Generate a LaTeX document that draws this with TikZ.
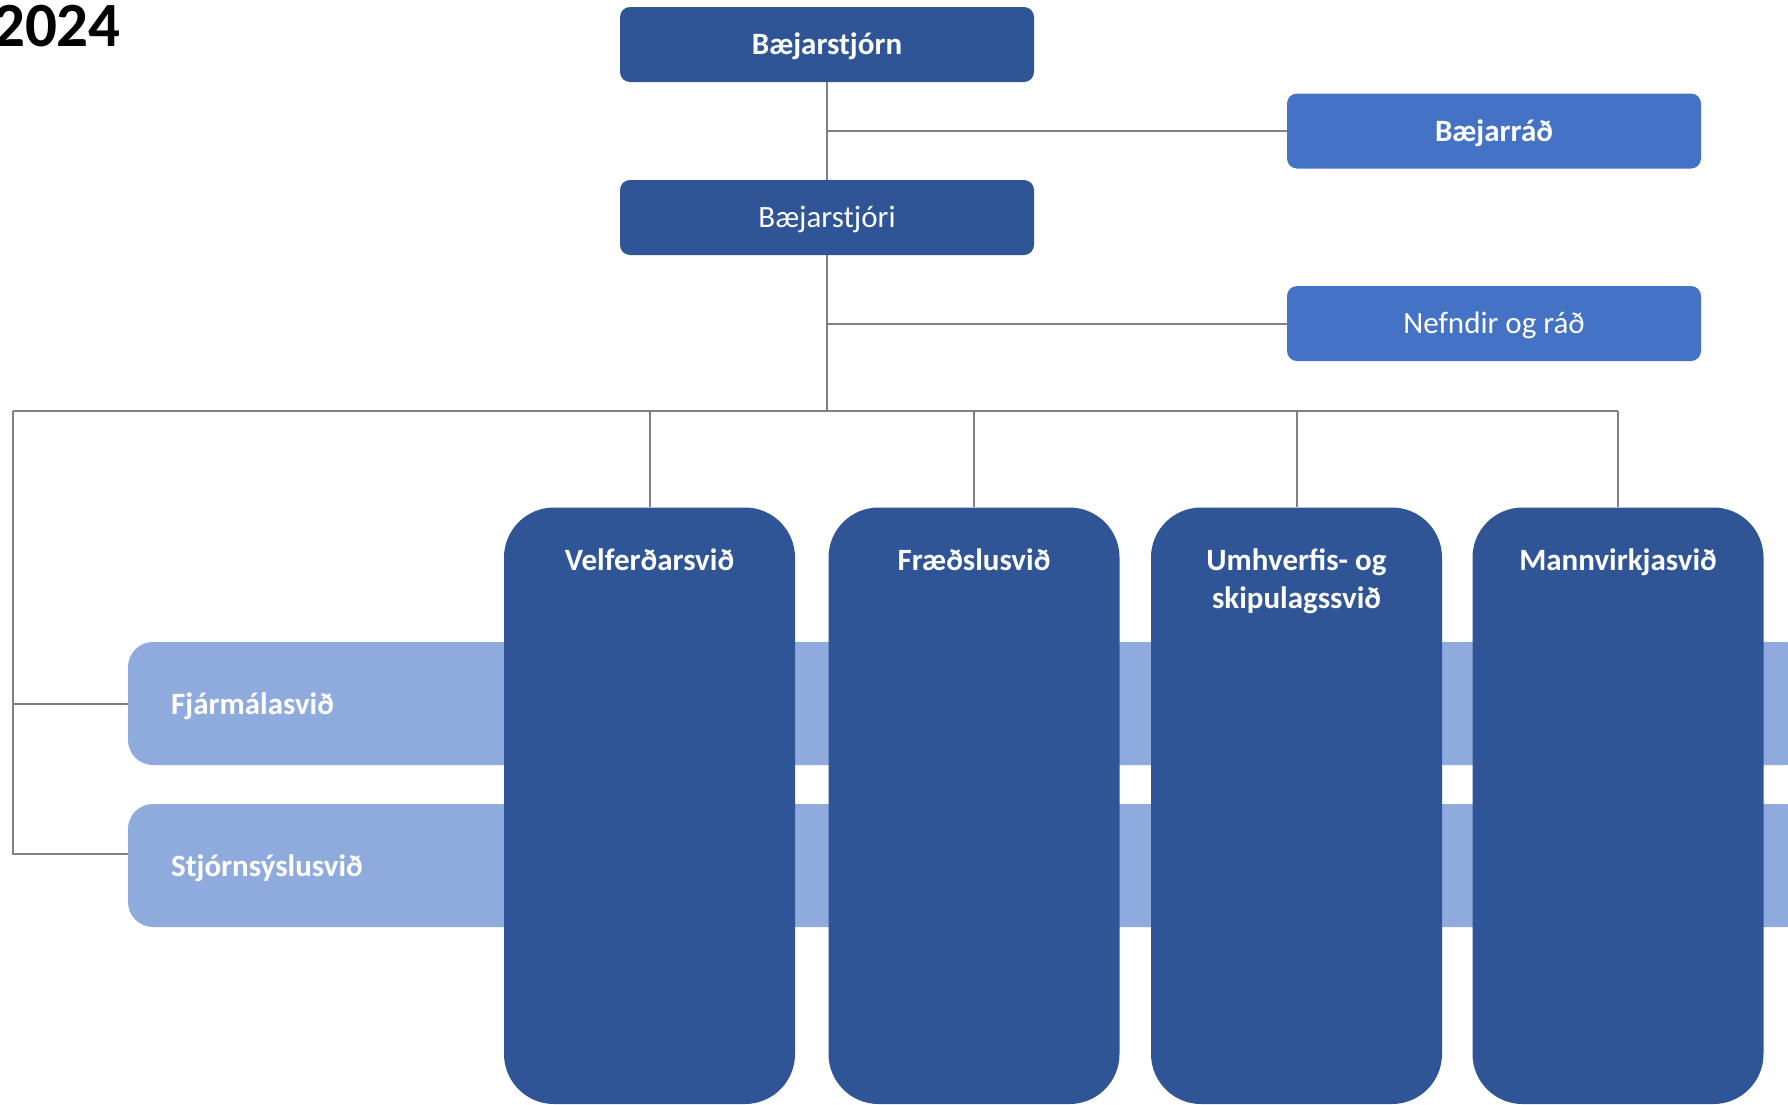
\documentclass[tikz,border=0pt]{standalone}
\usepackage{fontspec}
\setmainfont{Carlito}
\definecolor{darkblue}{HTML}{2F5597}
\definecolor{midblue}{HTML}{4472C4}
\definecolor{lightblue}{HTML}{8FAADC}
\definecolor{connector}{HTML}{808080}
\begin{document}
\begin{tikzpicture}[x=1pt,y=-1pt,
  txt/.style={text=white, inner sep=0pt, text height=20pt, text depth=0pt, font=\fontsize{31}{38}\selectfont},
  btxt/.style={txt, font=\fontsize{31}{38}\selectfont\bfseries},
  topbox/.style={rectangle, rounded corners=10pt, fill=darkblue, minimum width=414pt, minimum height=75pt, inner sep=0pt},
  sidebox/.style={rectangle, rounded corners=10pt, fill=midblue, minimum width=414pt, minimum height=75pt, inner sep=0pt},
  rowbox/.style={rectangle, rounded corners=25pt, fill=lightblue, minimum width=1682pt, minimum height=123pt, inner sep=0pt},
  colbox/.style={rectangle, rounded corners=50pt, fill=darkblue, minimum width=291pt, minimum height=596.5pt, inner sep=0pt},
  link/.style={draw=connector, line width=2pt}
]
\useasboundingbox (0,0) rectangle (1788,1104);

% title
\node[anchor=base east, inner sep=0pt, font=\fontsize{63}{70}\selectfont\bfseries] (year) at (121,46.5) {2024};

% rows (behind columns)
\node[rowbox] (fjar) at (969,703.5) {};
\node[rowbox] (stjs) at (969,865.5) {};

% columns
\node[colbox] (vel) at (649.5,805.75) {};
\node[colbox] (fra) at (974,805.75) {};
\node[colbox] (umh) at (1296.5,805.75) {};
\node[colbox] (man) at (1618,805.75) {};

% top boxes
\node[topbox] (stjorn) at (827,44.5) {};
\node[topbox] (stjori) at (827,217.5) {};
\node[sidebox] (raad) at (1494,131) {};
\node[sidebox] (nefnd) at (1494,323.5) {};

% connectors
\coordinate (bus) at (827,411);
\coordinate (busL) at (13,411);
\coordinate (busR) at (1618,411);
\draw[link] (stjorn.south) -- (stjori.north);
\draw[link] (raad.west) -- (raad.west -| stjorn.south);
\draw[link] (stjori.south) -- (bus);
\draw[link] (nefnd.west) -- (nefnd.west -| stjori.south);
\draw[link] (busL) -- (busR);
\draw[link] (vel.north) -- (vel.north |- bus);
\draw[link] (fra.north) -- (fra.north |- bus);
\draw[link] (umh.north) -- (umh.north |- bus);
\draw[link] (man.north) -- (man.north |- bus);
\draw[link] (busL) |- (fjar.west);
\draw[link] (busL) |- ([yshift=12pt]stjs.west);

% texts
\node[btxt] (stjornT) at (stjorn.center) {Bæjarstjórn};
\node[txt] (stjoriT) at (stjori.center) {Bæjarstjóri};
\node[btxt] (raadT) at (raad.center) {Bæjarráð};
\node[txt] (nefndT) at (nefnd.center) {Nefndir og ráð};

\node[btxt, anchor=west] (fjarT) at (171,704.5) {Fjármálasvið};
\node[btxt, anchor=west] (stjsT) at (171,866.5) {Stjórnsýslusvið};

\node[btxt] (velT) at (649.5,560.5) {Velferðarsvið};
\node[btxt] (fraT) at (974,560.5) {Fræðslusvið};
\node[btxt] (umhT1) at (1296.5,560.5) {Umhverfis- og};
\node[btxt] (umhT2) at (1296.5,598.5) {skipulagssvið};
\node[btxt] (manT) at (1618,560.5) {Mannvirkjasvið};
\end{tikzpicture}
\end{document}
